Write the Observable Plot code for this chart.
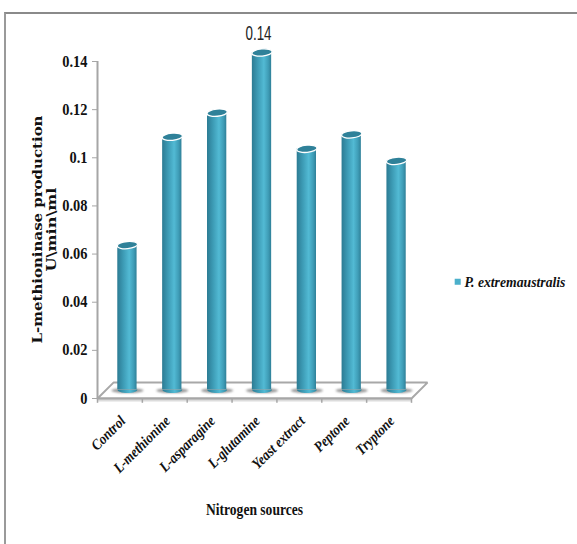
<!DOCTYPE html>
<html>
<head>
<meta charset="utf-8">
<script src="https://cdn.jsdelivr.net/npm/d3@7"></script>
<script src="https://cdn.jsdelivr.net/npm/@observablehq/plot@0.6"></script>
<style>
  html, body { margin: 0; padding: 0; background: #fff; }
  #chart { position: relative; width: 577px; height: 544px; overflow: hidden; }
  #chart::before {
    content: ""; position: absolute; left: 4px; top: 12px; width: 600px; height: 600px;
    border-left: 2px solid #9a9a9a; border-top: 2px solid #8a8a8a; pointer-events: none;
  }
  #chart svg { position: absolute; left: 0; top: 0; background: transparent; overflow: visible; }
</style>
</head>
<body>
<div id="chart"></div>
<script>
// L-methioninase production per nitrogen source
const sources = ["Control", "L-methionine", "L-asparagine", "L-glutamine", "Yeast extract", "Peptone", "Tryptone"];
const production = [0.06, 0.105, 0.115, 0.14, 0.1, 0.106, 0.095];
const yTicks = [0, 0.02, 0.04, 0.06, 0.08, 0.1, 0.12, 0.14];
const seriesName = "P. extremaustralis";
const yLabelLines = ["L-methioninase production", "U\\min\\ml"];
const xLabel = "Nitrogen sources";

const rows = sources.map((name, i) => ({name, i, value: production[i]}));

// Oblique offset of the cylinders and depth of the floor, in pixels and scale units
const shiftX = 7.5, shiftY = -9;
const depthX = 0.356, depthY = 0.0066;
const halfBar = 0.215;

const serif = "'Liberation Serif', serif";

// Ellipse path, tilted slightly, for cylinder caps and floor shadows
function ellipseSymbol(rx, ry, tilt, half = false) {
  const c = Math.cos(tilt), s = Math.sin(tilt), k = 0.5523;
  const p = (x, y) => [x * c - y * s, x * s + y * c];
  return {
    draw(ctx) {
      ctx.moveTo(...p(-rx, 0));
      if (half) {
        ctx.lineTo(...p(rx, 0));
      } else {
        ctx.bezierCurveTo(...p(-rx, -k * ry), ...p(-k * rx, -ry), ...p(0, -ry));
        ctx.bezierCurveTo(...p(k * rx, -ry), ...p(rx, -k * ry), ...p(rx, 0));
      }
      ctx.bezierCurveTo(...p(rx, k * ry), ...p(k * rx, ry), ...p(0, ry));
      ctx.bezierCurveTo(...p(-k * rx, ry), ...p(-rx, k * ry), ...p(-rx, 0));
      ctx.closePath();
    }
  };
}

const blurred = (amount) => (index, scales, values, dims, context, next) => {
  const g = next(index, scales, values, dims, context);
  g.style.filter = `blur(${amount}px)`;
  return g;
};

// Horizontal shading that gives the bars their cylinder look
const shading = () => {
  const defs = d3.create("svg:defs");
  const grad = defs.append("linearGradient").attr("id", "cyl").attr("x1", 0).attr("x2", 1).attr("y1", 0).attr("y2", 0);
  [[0, "#2c7b93"], [0.3, "#3c9ab4"], [0.62, "#52bad4"], [0.85, "#3f9db7"], [1, "#2f8098"]]
    .forEach(([o, col]) => grad.append("stop").attr("offset", o).attr("stop-color", col));
  return defs.node();
};

const floorCorners = [
  {x: 0, y: 0}, {x: 7, y: 0}, {x: 7 + depthX, y: depthY}, {x: depthX, y: depthY}, {x: 0, y: 0}
];

const plot = Plot.plot({
  width: 577,
  height: 544,
  marginLeft: 97,
  marginRight: 166,
  marginTop: 61,
  marginBottom: 146,
  x: {domain: [0, 7], axis: null},
  y: {domain: [0, 0.14]},
  style: {background: "transparent", overflow: "visible"},
  marks: [
    shading,
    // floor
    Plot.line(floorCorners, {x: "x", y: "y", stroke: "#a8a8a8", strokeWidth: 2, fill: "#fff", strokeLinejoin: "miter"}),
    Plot.ruleY([0], {stroke: "#dcdcdc", strokeWidth: 2, dy: 2}),
    Plot.ruleY([0], {stroke: "#a6a6a6", strokeWidth: 2}),
    // category ticks below the floor edge
    Plot.ruleX(d3.range(0, 8), {y1: 0, y2: -0.002, stroke: "#a6a6a6", strokeWidth: 1.5}),
    // contact shadows on the floor
    Plot.dot(rows, {
      x: d => d.i + 0.5, y: 0, dx: shiftX, dy: shiftY + 1,
      symbol: ellipseSymbol(16, 2.6, 0), fill: "#9a9a9a", stroke: "none", render: blurred(1)
    }),
    // cylinders
    Plot.dot(rows, {
      x: d => d.i + 0.5, y: 0, dx: shiftX, dy: shiftY,
      symbol: ellipseSymbol(10, 3.6, 0, true), fill: "url(#cyl)", stroke: "none"
    }),
    Plot.rectY(rows, {
      x1: d => d.i + 0.5 - halfBar, x2: d => d.i + 0.5 + halfBar,
      y1: 0, y2: "value", dx: shiftX, dy: shiftY,
      fill: "url(#cyl)"
    }),
    Plot.dot(rows, {
      x: d => d.i + 0.5, y: "value", dx: shiftX, dy: shiftY,
      symbol: ellipseSymbol(10.2, 3.6, -0.09), fill: "#2f8199", stroke: "#fff", strokeWidth: 1.3
    }),
    // value axis
    Plot.ruleX([0], {y1: 0, y2: 0.14, stroke: "#a6a6a6", strokeWidth: 2}),
    Plot.axisY({
      ticks: yTicks, tickFormat: d => String(d), tickSize: 5, tickPadding: 5, stroke: "#a6a6a6", fill: "#111",
      label: null, fontFamily: serif, fontWeight: "bold", fontSize: 16
    }),
    // category labels
    Plot.text(rows, {
      x: d => d.i + 0.5, y: 0, text: "name", rotate: -45, textAnchor: "end",
      dx: 3, dy: 20, fontFamily: serif, fontWeight: "bold", fontStyle: "italic", fontSize: 15, fill: "#111"
    }),
    // value label over the tallest bar
    Plot.text([rows[3]], {
      x: d => d.i + 0.5, y: "value", text: d => String(d.value), dx: shiftX - 3.5, dy: -28,
      fontFamily: "'Liberation Sans', sans-serif", fontSize: 20, fill: "#222"
    }),
    // axis titles
    Plot.text([yLabelLines[0]], {
      x: -1.335, y: 0.0702, text: d => d, rotate: -90,
      fontFamily: "'DejaVu Serif', serif", fontWeight: "bold", fontSize: 13.5, fill: "#111"
    }),
    Plot.text([yLabelLines[1]], {
      x: -1.02, y: 0.0702, text: d => d, rotate: -90,
      fontFamily: "'DejaVu Serif', serif", fontWeight: "bold", fontSize: 13.5, fill: "#111"
    }),
    Plot.text([xLabel], {
      x: 3.5, y: 0, text: d => d, dy: 111, dx: 0,
      fontFamily: serif, fontWeight: "bold", fontSize: 16, fill: "#111"
    }),
    // legend entry
    Plot.dot([seriesName], {
      x: 8.03, y: 0.0485, symbol: "square", r: 3.4, fill: "#4bb0cb", stroke: "none"
    }),
    Plot.text([seriesName], {
      x: 8.18, y: 0.0485, text: d => d, textAnchor: "start",
      fontFamily: serif, fontWeight: "bold", fontStyle: "italic", fontSize: 15, fill: "#111"
    })
  ]
});
document.getElementById("chart").appendChild(plot);

// Fit text runs to the condensed set widths used by this figure
const fittedWidths = new Map([
  [yLabelLines[0], 228], [yLabelLines[1], 84], [xLabel, 97], [seriesName, 101]
]);
for (const t of plot.querySelectorAll("text")) {
  const label = t.textContent;
  const natural = t.getComputedTextLength();
  const inAxis = t.parentNode.getAttribute("aria-label") === "y-axis tick label";
  let target;
  if (inAxis) target = natural * 0.9;
  else if (label === "0.14") target = 26;
  else if (fittedWidths.has(label)) target = fittedWidths.get(label);
  else target = natural * 0.87;
  t.setAttribute("textLength", target);
  t.setAttribute("lengthAdjust", "spacingAndGlyphs");
}
</script>
</body>
</html>
